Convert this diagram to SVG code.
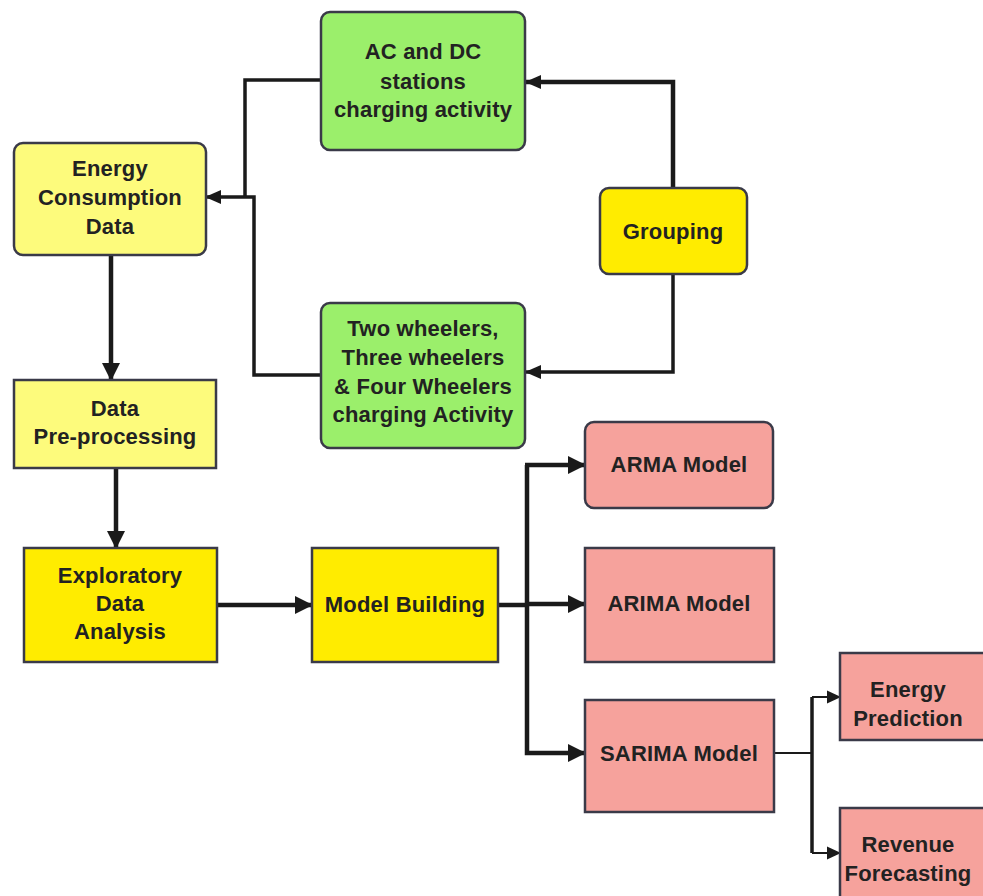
<svg xmlns="http://www.w3.org/2000/svg" width="983" height="896" viewBox="0 0 983 896">
<style>
.box{stroke:#3a3a48;stroke-width:2.5}
.ly{fill:#fdfb7c}
.by{fill:#ffec00}
.gr{fill:#9bef6b}
.pk{fill:#f6a29c}
text{font-family:"Liberation Sans",Arial,sans-serif;font-weight:bold;font-size:22px;fill:#222;text-anchor:middle;letter-spacing:0.2px}
.c{fill:none;stroke:#1a1a1a;stroke-linejoin:miter}
.w4{stroke-width:4.5}
.w3{stroke-width:3.5}
.w2{stroke-width:2}
</style>
<defs>
<marker id="ah" markerUnits="userSpaceOnUse" markerWidth="18" markerHeight="18" refX="17" refY="9" orient="auto">
<path d="M0,0 L18,9 L0,18 z" fill="#1a1a1a"/>
</marker>
<marker id="am" markerUnits="userSpaceOnUse" markerWidth="16" markerHeight="16" refX="15" refY="8" orient="auto">
<path d="M0,1 L16,8 L0,15 z" fill="#1a1a1a"/>
</marker>
<marker id="as" markerUnits="userSpaceOnUse" markerWidth="14" markerHeight="14" refX="13" refY="7" orient="auto">
<path d="M0,0.5 L14,7 L0,13.5 z" fill="#1a1a1a"/>
</marker>
</defs>
<rect width="983" height="896" fill="#ffffff"/>

<g id="connectors">
<path class="c w3" d="M321,80 H245 V197"/>
<path class="c w3" d="M321,375 H254 V197 H206" marker-end="url(#am)"/>
<path class="c w4" d="M673,188 V82 H526" marker-end="url(#am)"/>
<path class="c w3" d="M673,274 V372 H526" marker-end="url(#am)"/>
<path class="c w4" d="M111,255 V380" marker-end="url(#ah)"/>
<path class="c w4" d="M116,468 V548" marker-end="url(#ah)"/>
<path class="c w4" d="M217,605 H312" marker-end="url(#ah)"/>
<path class="c w4" d="M498,605 H527"/>
<path class="c w4" d="M527,465 V753 H585" marker-end="url(#ah)"/>
<path class="c w4" d="M525,465 H585" marker-end="url(#ah)"/>
<path class="c w4" d="M527,604 H585" marker-end="url(#ah)"/>
<path class="c w2" d="M774,753 H812"/>
<path class="c w3" d="M812,697 V853"/>
<path class="c w2" d="M812,697 H840" marker-end="url(#as)"/>
<path class="c w2" d="M812,853 H840" marker-end="url(#as)"/>
</g>

<g id="energy-consumption">
<rect class="box ly" x="14" y="143" width="192" height="112" rx="9"/>
<text x="110" y="176">Energy</text>
<text x="110" y="205">Consumption</text>
<text x="110" y="234">Data</text>
</g>

<g id="ac-dc">
<rect class="box gr" x="321" y="12" width="204" height="138" rx="9"/>
<text x="423" y="59">AC and DC</text>
<text x="423" y="89">stations</text>
<text x="423" y="117">charging activity</text>
</g>

<g id="wheelers">
<rect class="box gr" x="321" y="303" width="204" height="145" rx="9"/>
<text x="423" y="336">Two wheelers,</text>
<text x="423" y="365">Three wheelers</text>
<text x="423" y="394">&amp; Four Wheelers</text>
<text x="423" y="422">charging Activity</text>
</g>

<g id="grouping">
<rect class="box by" x="600" y="188" width="147" height="86" rx="9"/>
<text x="673" y="239">Grouping</text>
</g>

<g id="data-preprocessing">
<rect class="box ly" x="14" y="380" width="202" height="88"/>
<text x="115" y="416">Data</text>
<text x="115" y="444">Pre-processing</text>
</g>

<g id="eda">
<rect class="box by" x="24" y="548" width="193" height="114"/>
<text x="120" y="583">Exploratory</text>
<text x="120" y="611">Data</text>
<text x="120" y="639">Analysis</text>
</g>

<g id="model-building">
<rect class="box by" x="312" y="548" width="186" height="114"/>
<text x="405" y="612">Model Building</text>
</g>

<g id="arma">
<rect class="box pk" x="585" y="422" width="188" height="86" rx="9"/>
<text x="679" y="472">ARMA Model</text>
</g>

<g id="arima">
<rect class="box pk" x="585" y="548" width="189" height="114"/>
<text x="679" y="611">ARIMA Model</text>
</g>

<g id="sarima">
<rect class="box pk" x="585" y="700" width="189" height="112"/>
<text x="679" y="761">SARIMA Model</text>
</g>

<g id="energy-prediction">
<rect class="box pk" x="840" y="653" width="150" height="87"/>
<text x="908" y="697">Energy</text>
<text x="908" y="726">Prediction</text>
</g>

<g id="revenue-forecasting">
<rect class="box pk" x="840" y="808" width="150" height="100"/>
<text x="908" y="852">Revenue</text>
<text x="908" y="881">Forecasting</text>
</g>
</svg>
